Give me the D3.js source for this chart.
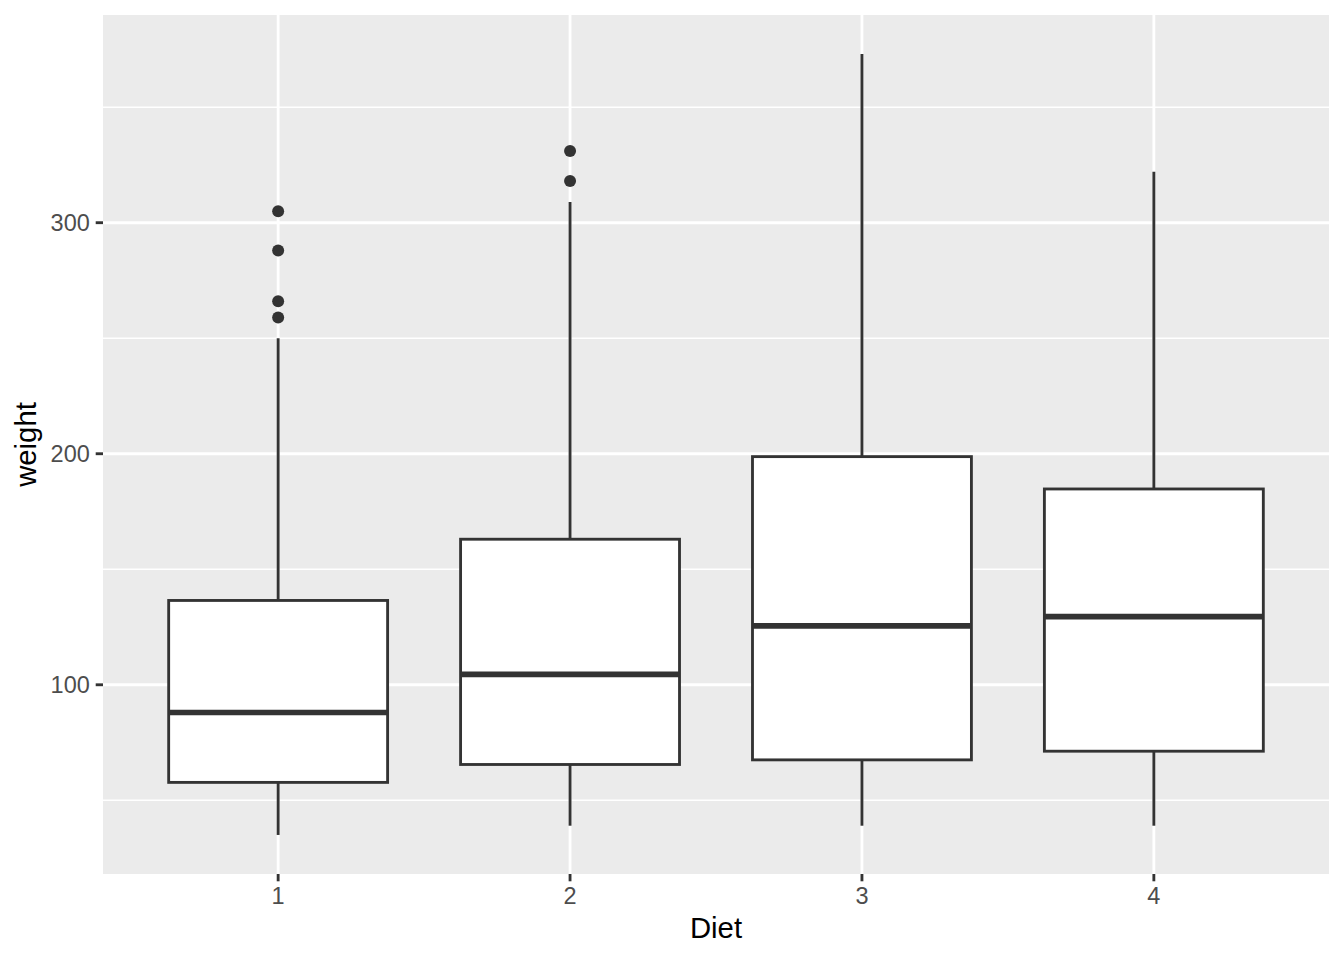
<!DOCTYPE html>
<html>
<head>
<meta charset="utf-8">
<script src="https://cdn.jsdelivr.net/npm/d3@7"></script>
<style>
  html, body { margin: 0; padding: 0; background: #fff; }
  svg { display: block; font-family: "Liberation Sans", Arial, Helvetica, sans-serif; }
</style>
</head>
<body>
<svg id="chart" width="1344" height="960"></svg>
<script>
// ---- data (ChickWeight weight by Diet) ----
const diets = ["1", "2", "3", "4"];
const lowerWhisker = [35, 39, 39, 39];
const q1 = [57.75, 65.5, 67.5, 71.25];
const median = [88, 104.5, 125.5, 129.5];
const q3 = [136.5, 163, 198.75, 184.75];
const upperWhisker = [250, 309, 373, 322];
const outliers = [[259, 266, 288, 305], [318, 331], [], []];
const yTicks = [100, 200, 300];
const yMinorTicks = [50, 150, 250, 350];

const boxes = diets.map((d, i) => ({
  diet: d, lo: lowerWhisker[i], q1: q1[i], med: median[i], q3: q3[i], hi: upperWhisker[i], out: outliers[i]
}));

// ---- layout ----
const svg = d3.select("#chart");
const panel = { left: 103, right: 1329, top: 15, bottom: 874 };

const allVals = boxes.flatMap(b => [b.lo, b.hi, ...b.out]);
const vmin = d3.min(allVals), vmax = d3.max(allVals);
const pad = (vmax - vmin) * 0.05;

const x = d3.scalePoint().domain(diets).range([panel.left, panel.right]).padding(0.6);
const y = d3.scaleLinear().domain([vmin - pad, vmax + pad]).range([panel.bottom, panel.top]);
const boxW = x.step() * 0.75;

// panel background
svg.append("rect")
  .attr("x", panel.left).attr("y", panel.top)
  .attr("width", panel.right - panel.left).attr("height", panel.bottom - panel.top)
  .attr("fill", "#EBEBEB");

const grid = svg.append("g");
grid.selectAll(".minor").data(yMinorTicks).enter().append("line")
  .attr("x1", panel.left).attr("x2", panel.right)
  .attr("y1", d => y(d)).attr("y2", d => y(d))
  .attr("stroke", "#fff").attr("stroke-width", 1.42);
grid.selectAll(".major").data(yTicks).enter().append("line")
  .attr("x1", panel.left).attr("x2", panel.right)
  .attr("y1", d => y(d)).attr("y2", d => y(d))
  .attr("stroke", "#fff").attr("stroke-width", 2.85);
grid.selectAll(".vmajor").data(diets).enter().append("line")
  .attr("y1", panel.top).attr("y2", panel.bottom)
  .attr("x1", d => x(d)).attr("x2", d => x(d))
  .attr("stroke", "#fff").attr("stroke-width", 2.85);

// boxplots
const col = "#333333";
const g = svg.append("g");
const bg = g.selectAll(".box").data(boxes).enter().append("g");
bg.append("line")
  .attr("x1", d => x(d.diet)).attr("x2", d => x(d.diet))
  .attr("y1", d => y(d.hi)).attr("y2", d => y(d.q3))
  .attr("stroke", col).attr("stroke-width", 2.85);
bg.append("line")
  .attr("x1", d => x(d.diet)).attr("x2", d => x(d.diet))
  .attr("y1", d => y(d.q1)).attr("y2", d => y(d.lo))
  .attr("stroke", col).attr("stroke-width", 2.85);
bg.append("rect")
  .attr("x", d => x(d.diet) - boxW / 2).attr("width", boxW)
  .attr("y", d => y(d.q3)).attr("height", d => y(d.q1) - y(d.q3))
  .attr("fill", "#fff").attr("stroke", col).attr("stroke-width", 2.85);
bg.append("line")
  .attr("x1", d => x(d.diet) - boxW / 2).attr("x2", d => x(d.diet) + boxW / 2)
  .attr("y1", d => y(d.med)).attr("y2", d => y(d.med))
  .attr("stroke", col).attr("stroke-width", 5.7);
bg.selectAll("circle").data(d => d.out.map(v => ({ diet: d.diet, v }))).enter().append("circle")
  .attr("cx", d => x(d.diet)).attr("cy", d => y(d.v)).attr("r", 6)
  .attr("fill", col);

// axes
const tickCol = "#333333", labCol = "#4D4D4D";
const yAxis = svg.append("g");
yAxis.selectAll("line").data(yTicks).enter().append("line")
  .attr("x1", panel.left - 7.3).attr("x2", panel.left)
  .attr("y1", d => y(d)).attr("y2", d => y(d))
  .attr("stroke", tickCol).attr("stroke-width", 2.85);
yAxis.selectAll("text").data(yTicks).enter().append("text")
  .attr("x", panel.left - 7.3 - 5.9).attr("y", d => y(d))
  .attr("dy", "0.36em").attr("text-anchor", "end")
  .attr("font-size", 23.5).attr("fill", labCol)
  .text(d => d);

const xAxis = svg.append("g");
xAxis.selectAll("line").data(diets).enter().append("line")
  .attr("x1", d => x(d)).attr("x2", d => x(d))
  .attr("y1", panel.bottom).attr("y2", panel.bottom + 7.3)
  .attr("stroke", tickCol).attr("stroke-width", 2.85);
xAxis.selectAll("text").data(diets).enter().append("text")
  .attr("x", d => x(d)).attr("y", panel.bottom + 7.3 + 5.9 + 17)
  .attr("text-anchor", "middle")
  .attr("font-size", 23.5).attr("fill", labCol)
  .text(d => d);

// titles
svg.append("text")
  .attr("x", (panel.left + panel.right) / 2).attr("y", 938)
  .attr("text-anchor", "middle").attr("font-size", 29.3).attr("fill", "#000")
  .text("Diet");
svg.append("text")
  .attr("transform", `translate(36, ${(panel.top + panel.bottom) / 2}) rotate(-90)`)
  .attr("text-anchor", "middle").attr("font-size", 29.3).attr("fill", "#000")
  .text("weight");
</script>
</body>
</html>
